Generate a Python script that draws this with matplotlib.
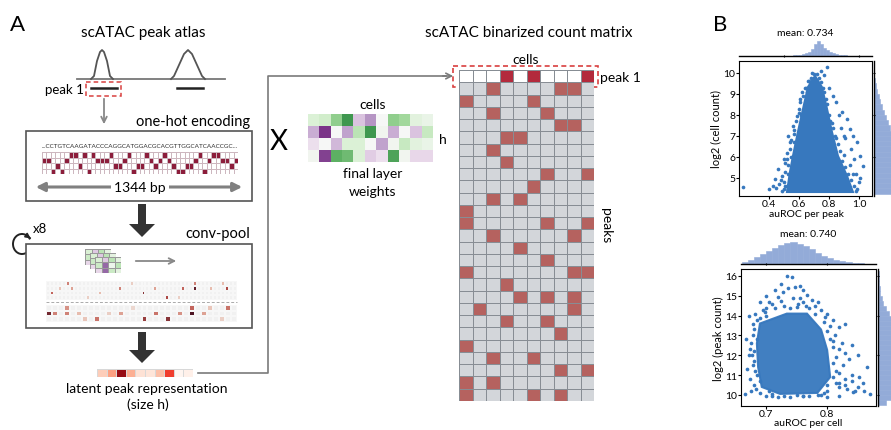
import numpy as np
import matplotlib.pyplot as plt
from matplotlib.colors import ListedColormap, LinearSegmentedColormap
from matplotlib.patches import Rectangle, Polygon, Arc

W, H = 891, 431
plt.rcParams['font.family'] = ['Lato', 'DejaVu Sans']

# ---------------- data: panel A ----------------
sequence = "CCTGTCAAGATACCCAGGCATGGACGCACGTTGGCATCAACCGC"
bases = "ACGT"

n_cells = 10
peak1_cells = [3, 5, 9]
# open cells (columns) for each further peak row of the count matrix
peak_rows = [[2, 7, 8], [0, 5], [2, 6], [7, 8], [3, 4], [2], [3], [6, 9], [5],
             [2, 4], [0], [0, 6, 9], [2, 8], [4], [6], [0, 8, 9], [3], [4, 6, 8],
             [1, 8], [3, 6], [7], [0], [2, 5], [7, 9], [0, 2], [0, 5, 7]]

# final layer weights (h x cells)
weights = [[0.2, 0.25, 0.5, 0.75, -0.3, -0.5, 0.0, 0.5, 0.45, 0.15, 0.1],
           [-0.4, -0.85, 0.0, -0.45, 0.35, 0.75, 0.05, -0.4, 0.0, -0.3, 0.3],
           [-0.15, 0.0, -0.35, 0.2, 0.2, 0.0, -0.45, 0.05, 0.3, 0.15, 0.1],
           [0.05, -0.8, 0.65, 0.6, 0.2, -0.25, -0.15, 0.7, 0.05, -0.2, -0.2]]

# conv filter icon
filter_w = [[0.3, -0.4, 0.5, 0.2],
            [0.4, -1.0, 0.1, 0.5],
            [-0.3, -1.0, 0.4, 0.2]]

latent = [0.2, 0.35, 0.95, 0.3, 0.12, 0.1, 0.25, 0.65, 0.0, 0.03]

# conv-pool feature maps: (col, row, value)
conv1_cells = [(1, 2, 0.6), (5, 0, 0.5), (6, 1, 0.4), (13, 2, 0.3), (18, 1, 0.5),
               (24, 2, 0.8), (27, 1, 0.4), (30, 3, 0.7), (34, 1, 0.6), (37, 0, 0.5),
               (37, 1, 0.9), (41, 1, 0.3), (45, 1, 0.7), (10, 3, 0.2), (21, 0, 0.2),
               (44, 0, 0.3), (33, 3, 0.2), (3, 1, 0.25)]
conv2_cells = [(0, 1, 0.85), (3, 0, 0.45), (3, 1, 0.5), (5, 1, 0.3), (8, 2, 0.55),
               (12, 1, 0.4), (16, 2, 0.75), (18, 1, 0.55), (20, 2, 0.8), (22, 1, 0.45),
               (24, 0, 0.6), (24, 1, 0.95), (26, 1, 0.4), (30, 0, 0.55), (10, 1, 0.2),
               (14, 0, 0.15), (27, 0, 0.25), (6, 2, 0.25), (29, 2, 0.2), (1, 1, 0.5)]

# ---------------- data: panel B ----------------
peak_core_x = [0.52, 0.54, 0.56, 0.593, 0.627, 0.66, 0.707, 0.753, 0.787, 0.82, 0.86, 0.92, 0.96]
peak_core_y = [4.33, 5.29, 6.05, 7.19, 8.29, 9.33, 9.86, 9.33, 8.29, 7.19, 6.05, 5.1, 4.33]
peak_x = [0.23, 0.40, 0.44, 0.46, 0.47, 0.49, 0.50, 0.51, 0.48, 0.53, 0.54, 0.56, 0.585, 0.605,
          0.62, 0.64, 0.66, 0.69, 0.75, 0.785, 0.77, 0.80, 0.83, 0.85, 0.885, 0.92, 0.94, 0.96,
          0.985, 1.005, 1.025, 0.98, 1.0, 0.99, 0.95, 0.91, 0.88, 0.52, 0.55, 0.57, 0.60, 0.50,
          0.45, 0.43, 0.87, 0.90, 1.01, 0.97, 0.52, 0.53,
          0.50, 0.51, 0.52, 0.54, 0.55, 0.57, 0.58, 0.60, 0.61, 0.63, 0.645, 0.67, 0.68, 0.70,
          0.72, 0.735, 0.75, 0.765, 0.78, 0.79, 0.80, 0.81, 0.83, 0.84, 0.86, 0.875, 0.89,
          0.91, 0.93, 0.95, 0.97, 0.98, 0.49, 0.505, 0.53, 0.565, 0.615, 0.655, 0.76, 0.82,
          0.85, 0.90, 0.94, 0.96, 0.935, 0.915]
peak_y = [4.57, 4.45, 4.95, 5.43, 4.71, 5.1, 4.45, 5.7, 4.9, 7.0, 6.71, 7.48, 7.95, 8.76,
          9.1, 9.3, 9.6, 10.0, 10.1, 10.29, 9.9, 9.3, 8.9, 8.62, 8.14, 7.81, 7.33, 7.0,
          6.71, 6.05, 5.57, 5.2, 4.8, 4.45, 6.4, 6.9, 7.4, 6.2, 6.0, 7.1, 8.3, 5.9,
          4.5, 4.6, 8.0, 7.0, 5.0, 5.9, 4.6, 5.2,
          4.8, 5.3, 5.9, 6.4, 6.8, 7.3, 7.7, 8.1, 8.6, 8.9, 9.3, 9.6, 9.75, 9.95,
          9.95, 9.75, 9.55, 9.1, 8.75, 8.5, 8.0, 7.7, 7.4, 7.0, 6.6, 6.3, 5.8,
          5.5, 5.2, 4.9, 4.6, 4.4, 4.4, 4.6, 5.6, 6.7, 8.0, 9.1, 9.3, 7.6,
          6.9, 6.1, 5.6, 5.2, 4.5, 4.9]
peak_hist_x = [0.51, 0.53, 0.55, 0.57, 0.59, 0.61, 0.63, 0.65, 0.67, 0.69, 0.71, 0.73, 0.75,
               0.77, 0.79, 0.81, 0.83, 0.85, 0.87, 0.89, 0.91, 0.93, 0.95, 0.97, 0.99]
peak_hist_h = [0.01, 0.02, 0.03, 0.04, 0.06, 0.09, 0.13, 0.19, 0.3, 0.48, 0.78, 1.0, 0.82,
               0.56, 0.38, 0.27, 0.2, 0.15, 0.1, 0.07, 0.05, 0.03, 0.02, 0.01, 0.005]
cellcount_hist_y = [4.375, 4.625, 4.875, 5.125, 5.375, 5.625, 5.875, 6.125, 6.375, 6.625,
                    6.875, 7.125, 7.375, 7.625, 7.875, 8.125, 8.375, 8.625, 8.875, 9.125,
                    9.375, 9.625, 9.875, 10.125]
cellcount_hist_h = [1.0, 0.93, 0.86, 0.8, 0.74, 0.68, 0.62, 0.57, 0.52, 0.47, 0.42, 0.38,
                    0.34, 0.3, 0.26, 0.22, 0.18, 0.14, 0.1, 0.07, 0.04, 0.02, 0.01, 0.005]

cell_core_x = [0.734, 0.767, 0.79, 0.80, 0.805, 0.784, 0.723, 0.693, 0.687, 0.685, 0.69]
cell_core_y = [14.1, 14.1, 13.3, 12.27, 10.9, 10.1, 10.05, 10.4, 11.4, 12.6, 13.6]
cell_x = [0.734, 0.742, 0.747, 0.756, 0.736, 0.72, 0.744, 0.767, 0.682, 0.698, 0.79, 0.797,
          0.679, 0.813, 0.82, 0.826, 0.82, 0.669, 0.674, 0.666, 0.859, 0.87, 0.843, 0.833,
          0.674, 0.677, 0.679, 0.71, 0.76, 0.70, 0.78, 0.69, 0.805, 0.81, 0.815, 0.83, 0.85,
          0.80, 0.69, 0.70, 0.72, 0.68, 0.685, 0.68, 0.686, 0.727, 0.752, 0.775, 0.82, 0.81,
          0.76, 0.79, 0.84, 0.676, 0.835, 0.71,
          0.70, 0.715, 0.73, 0.75, 0.765, 0.78, 0.795, 0.80, 0.805, 0.81, 0.81, 0.815, 0.82,
          0.80, 0.795, 0.77, 0.75, 0.74, 0.705, 0.69, 0.682, 0.678, 0.68, 0.68, 0.686, 0.695,
          0.705, 0.725, 0.74, 0.755, 0.77, 0.785, 0.80, 0.81, 0.82, 0.825, 0.83, 0.815, 0.83,
          0.84, 0.852, 0.845, 0.76, 0.725, 0.715, 0.70, 0.69, 0.672, 0.668, 0.672, 0.683,
          0.675, 0.71, 0.73, 0.76, 0.785, 0.80, 0.82, 0.86, 0.865, 0.85, 0.84, 0.83]
cell_y = [16.0, 15.95, 15.45, 15.5, 15.4, 14.95, 14.9, 15.05, 14.1, 14.2, 14.3, 13.95,
          13.6, 13.0, 12.3, 11.5, 11.1, 11.3, 10.8, 10.05, 10.6, 10.05, 10.15, 10.3,
          12.3, 12.0, 13.0, 14.6, 14.7, 14.4, 14.5, 13.9, 13.5, 12.7, 11.9, 10.8, 10.4,
          10.2, 10.1, 9.95, 9.9, 10.5, 11.0, 11.7, 12.8, 15.2, 14.6, 14.8, 10.6, 10.9,
          9.95, 10.0, 11.0, 12.6, 11.8, 10.05,
          14.0, 14.4, 14.5, 14.45, 14.5, 14.1, 13.7, 13.2, 12.8, 12.4, 11.6, 11.2, 10.4,
          10.5, 10.1, 9.95, 10.0, 9.9, 10.2, 10.7, 11.2, 11.5, 12.2, 13.3, 13.8, 14.3,
          14.7, 14.75, 14.4, 14.9, 14.4, 14.7, 14.1, 13.8, 13.4, 12.6, 12.1, 10.6, 10.5,
          10.7, 10.9, 10.2, 15.3, 15.6, 15.3, 15.0, 14.7, 14.0, 12.8, 12.0, 10.3,
          10.2, 9.95, 9.95, 9.95, 9.98, 9.9, 9.95, 10.2, 11.4, 12.0, 12.5, 13.6]
cell_hist_x = [0.665, 0.675, 0.685, 0.695, 0.705, 0.715, 0.725, 0.735, 0.745, 0.755, 0.765,
               0.775, 0.785, 0.795, 0.805, 0.815, 0.825, 0.835, 0.845, 0.855, 0.865, 0.875]
cell_hist_h = [0.1, 0.2, 0.3, 0.45, 0.6, 0.72, 0.85, 0.95, 1.0, 0.92, 0.82, 0.68, 0.5,
               0.38, 0.27, 0.18, 0.12, 0.08, 0.05, 0.03, 0.02, 0.01]
peakcount_hist_y = [9.625, 9.875, 10.125, 10.375, 10.625, 10.875, 11.125, 11.375, 11.625,
                    11.875, 12.125, 12.375, 12.625, 12.875, 13.125, 13.375, 13.625, 13.875,
                    14.125, 14.375, 14.625, 14.875, 15.125, 15.375, 15.625, 15.875, 16.125]
peakcount_hist_h = [0.15, 0.3, 0.35, 0.38, 0.4, 0.42, 0.45, 0.5, 0.55, 0.6, 0.62, 0.64,
                    0.63, 0.6, 0.55, 0.48, 0.4, 0.3, 0.22, 0.15, 0.1, 0.07, 0.04, 0.03,
                    0.02, 0.01, 0.01]

DOT = '#3778be'
HIST = '#93abd8'
GRAY = '#7a7a7a'

fig = plt.figure(figsize=(W / 100, H / 100), dpi=100)


def pax(x0, y0, x1, y1):
    # axes placed by pixel box of the reference picture
    return fig.add_axes([x0 / W, 1 - y1 / H, (x1 - x0) / W, (y1 - y0) / H])


def heat(ax, m, cmap, vmin, vmax, ec, lw):
    m = np.asarray(m)
    ax.pcolormesh(m, cmap=cmap, vmin=vmin, vmax=vmax, edgecolors=ec, linewidth=lw)
    ax.set_xlim(0, m.shape[1])
    ax.set_ylim(m.shape[0], 0)
    ax.axis('off')


# background canvas in pixel units for the schematic
bg = fig.add_axes([0, 0, 1, 1])
bg.set_xlim(0, W)
bg.set_ylim(H, 0)
bg.axis('off')

bg.text(18, 25, "A", fontsize=16, ha='center', va='center')
bg.text(720, 25, "B", fontsize=16, ha='center', va='center')
bg.text(143, 33, "scATAC peak atlas", fontsize=11, ha='center', va='center')
bg.text(529, 33, "scATAC binarized count matrix", fontsize=11, ha='center', va='center')

# genome track with two peaks
bg.plot([77, 225], [80, 80], color='#777', lw=1.3)
bg.plot([91, 94, 97, 100, 102, 104, 107, 110, 113],
        [80, 77, 62, 53, 51, 53, 62, 77, 80], color='#555', lw=1.3)
bg.plot([171, 174, 184, 188, 192, 202, 205],
        [80, 77, 55, 51, 55, 77, 80], color='#555', lw=1.3)
bg.plot([91, 117], [89, 89], color='#222', lw=1.8)
bg.plot([177, 203], [89, 89], color='#222', lw=1.8)
bg.add_patch(Rectangle((86, 83), 35, 14, fill=False, ec='#d9403f', lw=1.1, ls=(0, (3, 2))))
bg.text(84, 90, "peak 1", fontsize=9.5, ha='right', va='center')
bg.annotate('', xy=(104, 128), xytext=(104, 97),
            arrowprops=dict(arrowstyle='->', color='#888', lw=1.3))

# one-hot encoding box
bg.text(250, 122, "one-hot encoding", fontsize=10.5, ha='right', va='center')
bg.add_patch(Rectangle((26, 132), 226, 70, fill=False, ec='#555', lw=1.2))
bg.text(140, 147, "..." + sequence + "...", fontsize=4.6, ha='center', va='center',
        color='#333')
onehot = np.array([[1 if b == base else 0 for b in sequence] for base in bases])
ax = pax(42, 153, 238, 175)
heat(ax, onehot, ListedColormap(['white', '#8c1d3b']), 0, 1, '#cdb7bf', 0.4)
bg.annotate('', xy=(33, 188), xytext=(245, 188),
            arrowprops=dict(arrowstyle='<|-|>', color='#808080', lw=2.2, mutation_scale=13))
bg.text(140, 188, "1344 bp", fontsize=10, ha='center', va='center',
        bbox=dict(fc='white', ec='none', pad=2))

# big arrows
bg.arrow(142, 205, 0, 33, width=8, head_width=26, head_length=13,
         length_includes_head=True, color='#333', lw=0)
bg.arrow(142, 333, 0, 31, width=8, head_width=26, head_length=13,
         length_includes_head=True, color='#333', lw=0)

# conv-pool box
bg.text(250, 234, "conv-pool", fontsize=10.5, ha='right', va='center')
bg.text(33, 229, "x8", fontsize=9.5, ha='left', va='center')
bg.add_patch(Arc((22, 245), 18, 20, theta1=50, theta2=330, color='#222', lw=1.4))
bg.annotate('', xy=(33, 241), xytext=(28, 237.5),
            arrowprops=dict(arrowstyle='-|>', color='#222', lw=1.2, mutation_scale=7))
bg.add_patch(Rectangle((26, 245), 226, 84, fc='white', ec='#555', lw=1.2))
prgn = plt.get_cmap('PRGn')
for k, (fx, fy) in enumerate([(85, 250), (90, 254), (95, 258)]):
    fax = pax(fx, fy, fx + 26, fy + 16)
    heat(fax, filter_w, prgn, -1.6, 1.6, '#9a9a9a', 0.4)
bg.annotate('', xy=(179, 262), xytext=(133, 262),
            arrowprops=dict(arrowstyle='->', color='#888', lw=1.3))

featcmap = LinearSegmentedColormap.from_list('feat', ['#f1f1f1', '#e6b6a6', '#b9504a', '#3b0a1c'])
conv1 = np.zeros((4, 48))
for c, r, v in conv1_cells:
    conv1[r, c] = v
ax = pax(46, 282, 237, 301)
heat(ax, conv1, featcmap, 0, 1, '#f7f7f7', 0.3)
conv2 = np.zeros((3, 32))
for c, r, v in conv2_cells:
    conv2[r, c] = v
ax = pax(46, 306, 237, 323)
heat(ax, conv2, featcmap, 0, 1, '#f7f7f7', 0.3)
bg.plot([46, 237], [302.5, 302.5], color='#aaa', lw=0.7, ls=(0, (3, 2)))

# latent representation
ax = pax(97, 370, 193, 378)
heat(ax, [latent], plt.get_cmap('Reds'), 0, 1.05, '#d8d8d8', 0.4)
bg.text(147, 389, "latent peak representation", fontsize=10, ha='center', va='center')
bg.text(148, 405, "(size h)", fontsize=10, ha='center', va='center')
bg.plot([198, 268, 268, 446], [374, 374, 77, 77], color=GRAY, lw=1.2)
bg.annotate('', xy=(456, 77), xytext=(440, 77),
            arrowprops=dict(arrowstyle='->', color=GRAY, lw=1.2))

# final layer weights
bg.text(279, 142, "X", fontsize=20, ha='center', va='center')
ax = pax(308, 115, 433, 163)
heat(ax, weights, prgn, -1.1, 1.1, 'none', 0)
bg.text(373, 105, "cells", fontsize=10, ha='center', va='center')
bg.text(439, 140, "h", fontsize=10, ha='left', va='center')
bg.text(373, 174, "final layer", fontsize=10, ha='center', va='center')
bg.text(373, 192, "weights", fontsize=10, ha='center', va='center')

# binarized count matrix
codes = np.full((len(peak_rows) + 1, n_cells), 2)
codes[0, :] = 0
codes[0, peak1_cells] = 1
for i, cols in enumerate(peak_rows):
    codes[i + 1, cols] = 3
ax = pax(459, 71, 594, 402)
heat(ax, codes, ListedColormap(['white', '#b32a3c', '#d3d6da', '#b5625f']), -0.5, 3.5,
     '#878d94', 0.6)
bg.add_patch(Rectangle((453, 67), 145, 21, fill=False, ec='#d9403f', lw=1.2, ls=(0, (3, 2))))
bg.text(526, 60, "cells", fontsize=10, ha='center', va='center')
bg.text(600, 78, "peak 1", fontsize=10, ha='left', va='center')
bg.text(606, 226, "peaks", fontsize=10, ha='center', va='center', rotation=-90)


# ---------------- panel B ----------------
def style(ax):
    for s in ax.spines.values():
        s.set_linewidth(0.8)
    ax.tick_params(labelsize=7.5, length=2, width=0.8, pad=0.5)


def margin_top(ax, xs, hs, width, xlim):
    ax.bar(xs, hs, width=width, color=HIST, edgecolor=HIST, linewidth=0.4)
    ax.set_xlim(xlim)
    ax.set_ylim(0, max(hs))
    for k in ['left', 'right', 'top']:
        ax.spines[k].set_visible(False)
    ax.spines['bottom'].set_linewidth(1.0)
    ax.set_yticks([])
    ax.tick_params(axis='x', labelbottom=False, length=2, direction='inout')


def margin_right(ax, ys, hs, height, ylim):
    ax.barh(ys, hs, height=height, color=HIST, edgecolor=HIST, linewidth=0.4)
    ax.set_ylim(ylim)
    ax.set_xlim(0, 1)
    for k in ['bottom', 'right', 'top']:
        ax.spines[k].set_visible(False)
    ax.spines['left'].set_linewidth(1.0)
    ax.set_xticks([])
    ax.tick_params(axis='y', labelleft=False, length=2, direction='inout')


xlim1, ylim1 = (0.2, 1.087), (4.14, 10.57)
ax1 = pax(739, 62, 872, 197)
ax1.add_patch(Polygon(list(zip(peak_core_x, peak_core_y)), closed=True, fc=DOT, ec=DOT, lw=1.5))
ax1.scatter(peak_x, peak_y, s=7, color=DOT, linewidths=0)
ax1.set_xlim(xlim1)
ax1.set_ylim(ylim1)
ax1.set_xticks([0.4, 0.6, 0.8, 1.0])
ax1.set_yticks([5, 6, 7, 8, 9, 10])
ax1.set_ylabel("log2 (cell count)", fontsize=8, labelpad=1)
style(ax1)
ax1.tick_params(axis='x', pad=0)
margin_top(pax(739, 42, 872, 57), peak_hist_x, peak_hist_h, 0.02, xlim1)
margin_right(pax(874, 62, 920, 197), cellcount_hist_y, cellcount_hist_h, 0.25, ylim1)
bg.text(805, 33, "mean: 0.734", fontsize=7.5, ha='center', va='center')
bg.text(806, 215, "auROC per peak", fontsize=7.5, ha='center', va='center')

xlim2, ylim2 = (0.659, 0.880), (9.44, 16.35)
ax2 = pax(741, 270, 876, 407)
ax2.add_patch(Polygon(list(zip(cell_core_x, cell_core_y)), closed=True, fc=DOT, ec=DOT,
                      lw=1.5, alpha=0.95))
ax2.scatter(cell_x, cell_y, s=7, color=DOT, linewidths=0)
ax2.set_xlim(xlim2)
ax2.set_ylim(ylim2)
ax2.set_xticks([0.7, 0.8])
ax2.set_yticks([10, 11, 12, 13, 14, 15, 16])
ax2.set_ylabel("log2 (peak count)", fontsize=8, labelpad=1)
style(ax2)
ax2.tick_params(axis='x', pad=0)
margin_top(pax(741, 243, 876, 265), cell_hist_x, cell_hist_h, 0.01, xlim2)
margin_right(pax(878, 270, 930, 407), peakcount_hist_y, peakcount_hist_h, 0.25, ylim2)
bg.text(808, 235, "mean: 0.740", fontsize=7.5, ha='center', va='center')
bg.text(808, 424, "auROC per cell", fontsize=7.5, ha='center', va='center')

fig.savefig("out.png", dpi=100)
